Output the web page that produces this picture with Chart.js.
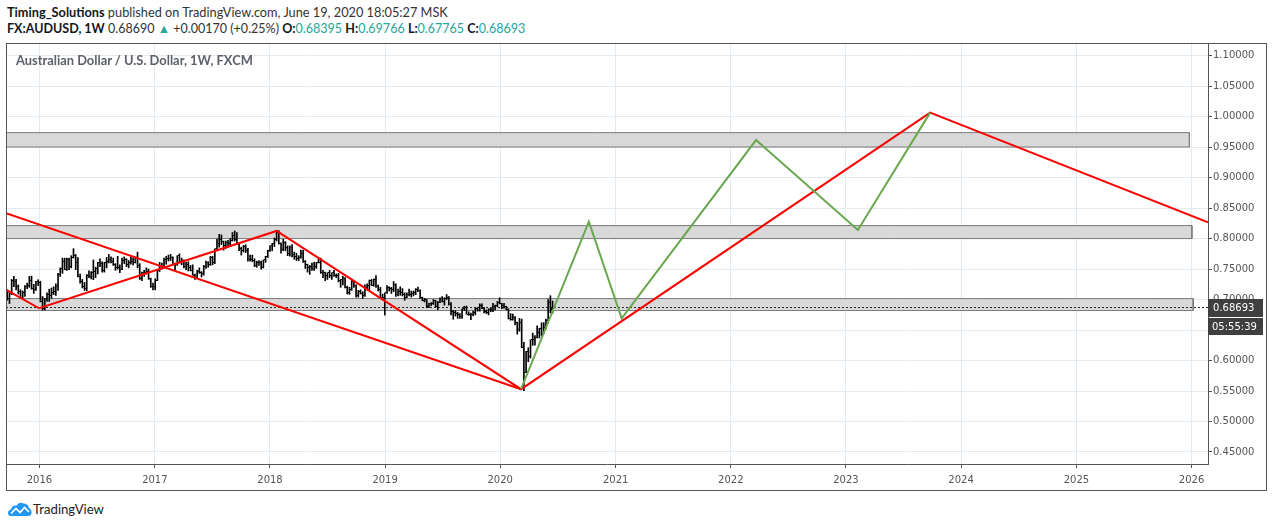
<!DOCTYPE html>
<html><head><meta charset="utf-8">
<script src="https://cdn.jsdelivr.net/npm/chart.js@4.4.1/dist/chart.umd.min.js"></script>
<style>
html,body{margin:0;padding:0;background:#fff;width:1274px;height:528px;overflow:hidden;font-family:Lato,"Liberation Sans",sans-serif;}
.txt{position:absolute;white-space:nowrap;color:#333;line-height:16px;font-size:13px;}
.txt b{color:#131722;}
.g{color:#26a69a;}
#wrap{position:absolute;left:6px;top:43px;width:1261px;height:448px;}
#title{color:#5d606b;font-weight:bold;font-size:12px;z-index:2;}
#logo{position:absolute;left:8px;top:501px;}
</style></head><body>
<div id="h1" class="txt" data-w="441" style="left:7px;top:4px;"><b>Timing_Solutions</b> published on TradingView.com, June 19, 2020 18:05:27 MSK</div>
<div id="h2" class="txt" data-w="519" style="left:7px;top:21px;"><b>FX:AUDUSD, 1W</b> 0.68690 <span class="g">▲</span> +0.00170 (+0.25%) <b>O:</b><span class="g">0.68395</span> <b>H:</b><span class="g">0.69766</span> <b>L:</b><span class="g">0.67765</span> <b>C:</b><span class="g">0.68693</span></div>
<div id="wrap"><canvas id="c" width="1261" height="448"></canvas></div>
<div id="title" class="txt" data-w="237" style="left:16px;top:52px;">Australian Dollar / U.S. Dollar, 1W, FXCM</div>
<svg id="logo" width="24" height="16" viewBox="0 0 24 16"><path d="M3 15 Q0 15 0 12 Q0 9 3 8.5 Q4 4 8.5 4.5 Q11 0.5 15.5 2.5 Q20 2.5 21 7 Q24 8.5 23.5 12 Q23 15 20 15 Z" fill="#2196f3"/><polyline points="3,12.5 8,7.5 12,11.5 16.5,6.5 21,11" stroke="#fff" stroke-width="1.7" fill="none"/></svg>
<div id="lt" class="txt" data-w="71" style="left:33px;top:501px;color:#222;">TradingView</div>
<script>
// ---- weekly OHLC (FX:AUDUSD, 1W, weeks starting 2015-09-21) ----
const firstWeek = '2015-09-21';
const opens = [
.7130,.7010,.7100,.7310,.7290,.7215,.7130,.7040,.7110,.7220,.7230,.7320,.7180,.7160,.7300,
.7280,.6970,.6850,.7010,.7080,.7060,.7120,.7130,.7220,.7410,.7510,.7630,.7500,.7660,.7550,.7690,.7720,.7600,.7380,.7300,.7220,.7180,.7400,.7380,.7440,.7460,.7510,.7600,.7590,.7480,.7600,.7630,.7650,.7630,.7570,.7520,.7530,.7500,.7640,.7660,.7570,.7610,.7630,.7610,.7690,.7560,.7350,.7440,.7450,.7460,.7340,.7210,
.7210,.7320,.7470,.7540,.7540,.7660,.7670,.7670,.7690,.7580,.7570,.7720,.7630,.7640,.7540,.7570,.7520,.7470,.7400,.7370,.7460,.7450,.7430,.7540,.7610,.7570,.7690,.7610,.7830,.7920,.7990,.7950,.7880,.7940,.7920,.7970,.8050,.7990,.7910,.7830,.7800,.7870,.7800,.7660,.7650,.7640,.7560,.7600,.7610,.7520,.7650,.7700,
.7800,.7880,.7920,.7990,.8100,.7920,.7820,.7940,.7850,.7760,.7860,.7740,.7710,.7680,.7690,.7760,.7620,.7570,.7530,.7540,.7510,.7550,.7610,.7610,.7440,.7450,.7400,.7440,.7400,.7440,.7400,.7400,.7310,.7330,.7340,.7190,.7110,.7170,.7300,.7225,.7070,.7130,.7100,.7070,.7200,.7230,.7310,.7230,.7330,.7210,.7170,.7040,
.7040,.7110,.7200,.7180,.7160,.7240,.7090,.7130,.7110,.7080,.7040,.7090,.7090,.7100,.7110,.7170,.7150,.7030,.6990,.7000,.6880,.6930,.6940,.6990,.6880,.6960,.7020,.6970,.7020,.7040,.6920,.6800,.6780,.6770,.6760,.6730,.6850,.6870,.6760,.6750,.6760,.6780,.6860,.6820,.6910,.6860,.6810,.6780,.6840,.6830,.6880,.6900,.6960,
.6940,.6900,.6890,.6840,.6690,.6680,.6710,.6620,.6510,.6620,.6210,.5800,.6150,.6060,.6340,.6350,.6370,.6460,.6520,.6440,.6540,.6660,.6960,.68395];
const highs = [
.7160,.7120,.7330,.7382,.7330,.7240,.7160,.7140,.7230,.7270,.7380,.7385,.7250,.7300,.7325,
.7300,.7050,.7020,.7110,.7170,.7190,.7210,.7260,.7430,.7520,.7680,.7680,.7680,.7680,.7720,.7835,.7740,.7690,.7420,.7330,.7280,.7410,.7470,.7460,.7650,.7530,.7610,.7670,.7620,.7610,.7690,.7740,.7700,.7680,.7590,.7710,.7570,.7680,.7700,.7670,.7640,.7700,.7680,.7700,.7778,.7590,.7450,.7480,.7520,.7500,.7350,.7270,
.7340,.7490,.7610,.7600,.7680,.7710,.7730,.7740,.7700,.7600,.7720,.7750,.7680,.7650,.7610,.7620,.7560,.7570,.7420,.7480,.7520,.7460,.7560,.7630,.7620,.7710,.7710,.7830,.7990,.8070,.8060,.7960,.7960,.7970,.8000,.8100,.8125,.8100,.7920,.7860,.7890,.7900,.7840,.7730,.7730,.7670,.7630,.7640,.7630,.7650,.7710,.7810,
.7880,.7920,.8010,.8136,.8130,.7930,.7990,.7950,.7880,.7880,.7900,.7780,.7760,.7720,.7810,.7810,.7640,.7580,.7560,.7600,.7610,.7610,.7680,.7680,.7480,.7450,.7440,.7480,.7440,.7480,.7420,.7430,.7330,.7380,.7360,.7220,.7200,.7310,.7310,.7240,.7150,.7160,.7130,.7240,.7260,.7320,.7330,.7340,.7394,.7240,.7200,.7090,
.7110,.7230,.7210,.7200,.7295,.7260,.7170,.7210,.7180,.7110,.7110,.7170,.7140,.7140,.7180,.7206,.7160,.7040,.7020,.7000,.6940,.6950,.7000,.6990,.6970,.7030,.7050,.7030,.7082,.7050,.6950,.6820,.6820,.6790,.6770,.6850,.6890,.6895,.6800,.6780,.6810,.6860,.6870,.6930,.6930,.6870,.6830,.6850,.6860,.6940,.6910,.6970,.7030,
.6940,.6940,.6890,.6850,.6770,.6760,.6720,.6630,.6690,.6680,.6300,.6150,.6210,.6340,.6450,.6410,.6570,.6530,.6620,.6620,.6680,.7000,.7064,.69766];
const lows = [
.6990,.6935,.7080,.7210,.7160,.7090,.7020,.7016,.7050,.7180,.7200,.7170,.7100,.7150,.7230,
.6960,.6827,.6830,.6970,.6970,.7020,.7080,.7070,.7150,.7380,.7430,.7490,.7480,.7490,.7520,.7680,.7490,.7370,.7270,.7190,.7150,.7145,.7360,.7340,.7325,.7360,.7420,.7540,.7450,.7450,.7520,.7600,.7600,.7560,.7480,.7500,.7440,.7490,.7590,.7540,.7520,.7580,.7570,.7600,.7520,.7330,.7310,.7380,.7420,.7330,.7200,.7160,
.7160,.7310,.7460,.7500,.7520,.7580,.7630,.7640,.7570,.7490,.7560,.7600,.7570,.7520,.7490,.7470,.7470,.7400,.7330,.7360,.7430,.7370,.7400,.7510,.7530,.7560,.7570,.7590,.7810,.7860,.7900,.7810,.7840,.7860,.7870,.7960,.7960,.7900,.7800,.7730,.7780,.7770,.7630,.7630,.7620,.7540,.7530,.7560,.7500,.7520,.7610,.7690,
.7790,.7800,.7870,.7960,.7910,.7760,.7800,.7800,.7720,.7710,.7700,.7660,.7640,.7640,.7680,.7610,.7510,.7450,.7413,.7480,.7480,.7510,.7600,.7430,.7360,.7310,.7330,.7360,.7330,.7380,.7360,.7290,.7200,.7240,.7190,.7090,.7085,.7150,.7200,.7040,.7040,.7090,.7020,.7050,.7160,.7160,.7230,.7220,.7200,.7140,.7030,.7020,
.6745,.7100,.7140,.7100,.7130,.7050,.7060,.7070,.7060,.6990,.7030,.7060,.7040,.7060,.7080,.7130,.7020,.6980,.6960,.6870,.6865,.6900,.6920,.6880,.6832,.6950,.6960,.6910,.7000,.6910,.6750,.6677,.6730,.6690,.6690,.6690,.6820,.6760,.6740,.6670,.6730,.6750,.6810,.6810,.6850,.6780,.6770,.6750,.6800,.6800,.6830,.6880,.6930,
.6850,.6860,.6830,.6680,.6660,.6660,.6585,.6433,.6480,.6210,.5506,.5800,.5980,.6040,.6250,.6250,.6370,.6370,.6400,.6440,.6520,.6650,.6780,.67765];
const closes = [
.7010,.7100,.7310,.7290,.7215,.7130,.7040,.7110,.7220,.7230,.7320,.7180,.7160,.7300,.7280,
.6970,.6850,.7010,.7080,.7060,.7120,.7130,.7220,.7410,.7510,.7630,.7500,.7660,.7550,.7690,.7720,.7600,.7380,.7300,.7220,.7180,.7400,.7380,.7440,.7460,.7510,.7600,.7590,.7480,.7600,.7630,.7650,.7630,.7570,.7520,.7530,.7500,.7640,.7660,.7570,.7610,.7630,.7610,.7690,.7560,.7350,.7440,.7450,.7460,.7340,.7210,.7210,
.7320,.7470,.7540,.7540,.7660,.7670,.7670,.7690,.7580,.7570,.7720,.7630,.7640,.7540,.7570,.7520,.7470,.7400,.7370,.7460,.7450,.7430,.7540,.7610,.7570,.7690,.7610,.7830,.7920,.7990,.7950,.7880,.7940,.7920,.7970,.8050,.7990,.7910,.7830,.7800,.7870,.7800,.7660,.7650,.7640,.7560,.7600,.7610,.7520,.7650,.7700,.7800,
.7880,.7920,.7990,.8100,.7920,.7820,.7940,.7850,.7760,.7860,.7740,.7710,.7680,.7690,.7760,.7620,.7570,.7530,.7540,.7510,.7550,.7610,.7610,.7440,.7450,.7400,.7440,.7400,.7440,.7400,.7400,.7310,.7330,.7340,.7190,.7110,.7170,.7300,.7225,.7070,.7130,.7100,.7070,.7200,.7230,.7310,.7230,.7330,.7210,.7170,.7040,.7040,
.7110,.7200,.7180,.7160,.7240,.7090,.7130,.7110,.7080,.7040,.7090,.7090,.7100,.7110,.7170,.7150,.7030,.6990,.7000,.6880,.6930,.6940,.6990,.6880,.6960,.7020,.6970,.7020,.7040,.6920,.6800,.6780,.6770,.6760,.6730,.6850,.6870,.6760,.6750,.6760,.6780,.6860,.6820,.6910,.6860,.6810,.6780,.6840,.6830,.6880,.6900,.6960,.6940,
.6900,.6890,.6840,.6690,.6680,.6710,.6620,.6510,.6620,.6210,.5800,.6150,.6060,.6340,.6350,.6370,.6460,.6520,.6440,.6540,.6660,.6960,.6860,.68693];

// ---- drawn zig-zag lines ----
const redDates  = ['2015-09-17','2015-12-31','2018-01-22','2020-03-07','2023-09-25','2026-02-22'];
const redValues = [0.7161, 0.6857, 0.8125, 0.5530, 1.0066, 0.8267];
const red2Dates  = ['2015-09-17','2020-03-07'];
const red2Values = [0.8415, 0.5530];
const greenDates  = ['2020-03-07','2020-10-08','2021-01-20','2022-03-22','2023-02-08','2023-09-25'];
const greenValues = [0.5530, 0.8279, 0.6693, 0.9616, 0.8141, 1.0066];

// ---- horizontal zones ----
const zoneLow  = [0.9502, 0.8000, 0.6820];
const zoneHigh = [0.9738, 0.8213, 0.7016];
const zoneEnd  = ['2025-12-25','2026-01-02','2026-01-06'];

// ---- axes ----
const xStart = '2015-09-17', xEnd = '2026-02-22';
const priceMin = 0.4303, priceMax = 1.1208;
const yearTickDates = ['2016-01-01','2017-01-01','2018-01-01','2019-01-01','2020-01-01','2021-01-01','2022-01-01','2023-01-01','2024-01-01','2025-01-01','2026-01-01'];
const yearLabels = ['2016','2017','2018','2019','2020','2021','2022','2023','2024','2025','2026'];
const priceTicks = [0.45,0.50,0.55,0.60,0.65,0.70,0.75,0.80,0.85,0.90,0.95,1.00,1.05,1.10];
const priceLabels = ['0.45000','0.50000','0.55000','0.60000','0.65000','0.70000','0.75000','0.80000','0.85000','0.90000','0.95000','1.00000','1.05000','1.10000'];
const lastClose = 0.68693, lastCloseLabel = '0.68693', countdownLabel = '05:55:39';

// ---------------------------------------------------------------
const DAY = 86400000;
const ms = s => Date.parse(s + 'T00:00:00Z');
const w0 = ms(firstWeek);
const weekX = closes.map((_, i) => w0 + i * 7 * DAY);
const xMin = ms(xStart), xMax = ms(xEnd);

function tickImg(left) {
  const c = document.createElement('canvas');
  c.width = 3; c.height = 1;
  const g = c.getContext('2d');
  g.fillStyle = '#000';
  g.fillRect(left ? 0 : 2, 0, 1, 1);
  return c;
}

const noHover = {pointRadius: 0, pointHoverRadius: 0, pointBorderWidth: 0, pointHoverBorderWidth: 0};
const datasets = [];
zoneLow.forEach((lo, i) => {
  const hi = zoneHigh[i], e = ms(zoneEnd[i]);
  datasets.push(Object.assign({
    type: 'line', order: 10,
    data: [{x: xMin, y: hi}, {x: e, y: hi}, {x: e, y: lo}, {x: xMin, y: lo}, {x: xMin, y: hi}],
    borderColor: '#7a7a7a', borderWidth: 1, backgroundColor: '#d9d9d9',
    fill: 'shape', tension: 0
  }, noHover));
});
datasets.push(Object.assign({
  type: 'line', order: 7,
  data: [{x: xMin, y: lastClose}, {x: xMax, y: lastClose}],
  borderColor: '#222', borderWidth: 1, borderDash: [2, 2], fill: false
}, noHover));
datasets.push({
  type: 'bar', order: 6,
  data: weekX.map((x, i) => ({x, y: [lows[i], highs[i]]})),
  backgroundColor: '#000', borderWidth: 0, barThickness: 1, grouped: false
});
datasets.push({
  type: 'scatter', order: 5,
  data: weekX.map((x, i) => ({x, y: opens[i]})),
  pointStyle: tickImg(true), pointRadius: 1, pointHoverRadius: 0, pointBorderWidth: 0, pointHoverBorderWidth: 0
});
datasets.push({
  type: 'scatter', order: 5,
  data: weekX.map((x, i) => ({x, y: closes[i]})),
  pointStyle: tickImg(false), pointRadius: 1, pointHoverRadius: 0, pointBorderWidth: 0, pointHoverBorderWidth: 0
});
datasets.push(Object.assign({
  type: 'line', order: 3,
  data: red2Dates.map((d, i) => ({x: ms(d), y: red2Values[i]})),
  borderColor: '#ff0000', borderWidth: 2, fill: false, tension: 0
}, noHover));
datasets.push(Object.assign({
  type: 'line', order: 2,
  data: redDates.map((d, i) => ({x: ms(d), y: redValues[i]})),
  borderColor: '#ff0000', borderWidth: 2, fill: false, tension: 0
}, noHover));
datasets.push(Object.assign({
  type: 'line', order: 1,
  data: greenDates.map((d, i) => ({x: ms(d), y: greenValues[i]})),
  borderColor: '#6aa84f', borderWidth: 2, fill: false, tension: 0
}, noHover));

const frame = {
  id: 'frame',
  afterDraw(chart) {
    const {ctx, chartArea: a, scales: {y}} = chart;
    ctx.save();
    ctx.strokeStyle = '#555'; ctx.lineWidth = 1;
    ctx.strokeRect(0.5, 0.5, chart.width - 1, chart.height - 1);
    const py = Math.round(y.getPixelForValue(lastClose));
    ctx.fillStyle = '#3f3f3f';
    ctx.fillRect(a.right, py - 9, 55, 18);
    ctx.fillRect(a.right, py + 10, 55, 17);
    ctx.fillStyle = '#fff';
    ctx.font = '10px "DejaVu Sans"';
    ctx.textBaseline = 'middle'; ctx.textAlign = 'left';
    ctx.fillText(lastCloseLabel, a.right + 5, py + 0.5);
    ctx.fillText(countdownLabel, a.right + 4, py + 19);
    ctx.restore();
  }
};

Chart.defaults.font.family = '"DejaVu Sans"';
new Chart(document.getElementById('c'), {
  type: 'scatter',
  data: {datasets},
  options: {
    responsive: false, animation: false, devicePixelRatio: 1, events: [],
    layout: {padding: 0, autoPadding: false},
    plugins: {legend: {display: false}, tooltip: {enabled: false}},
    scales: {
      x: {
        type: 'linear', position: 'bottom', min: xMin, max: xMax, offset: false,
        afterBuildTicks: s => { s.ticks = yearTickDates.map(d => ({value: ms(d)})); },
        afterFit: s => { s.height = 27; s.paddingLeft = 0; s.paddingRight = 0; s.paddingTop = 0; s.paddingBottom = 0; },
        ticks: {callback: (v, i) => yearLabels[i], color: '#555', font: {size: 10}, autoSkip: false, maxRotation: 0, padding: 6},
        grid: {color: '#e3ebf1', tickColor: '#555', tickLength: 4, offset: false},
        border: {color: '#555'}
      },
      y: {
        type: 'linear', position: 'right', min: priceMin, max: priceMax,
        afterBuildTicks: s => { s.ticks = priceTicks.map(v => ({value: v})); },
        afterFit: s => { s.width = 59; s.paddingLeft = 0; s.paddingRight = 0; s.paddingTop = 0; s.paddingBottom = 0; },
        ticks: {callback: (v, i) => priceLabels[i], color: '#555', font: {size: 10}, autoSkip: false, padding: 1},
        grid: {color: '#e3ebf1', tickColor: '#555', tickLength: 4},
        border: {color: '#555'}
      }
    }
  },
  plugins: [frame]
});

function fitAll() {
  document.querySelectorAll('[data-w]').forEach(el => {
    el.style.fontSize = '13px';
    const w = el.getBoundingClientRect().width;
    el.style.fontSize = (13 * (+el.dataset.w) / w) + 'px';
  });
}
fitAll();
if (document.fonts) document.fonts.ready.then(fitAll);
</script>
</body></html>
